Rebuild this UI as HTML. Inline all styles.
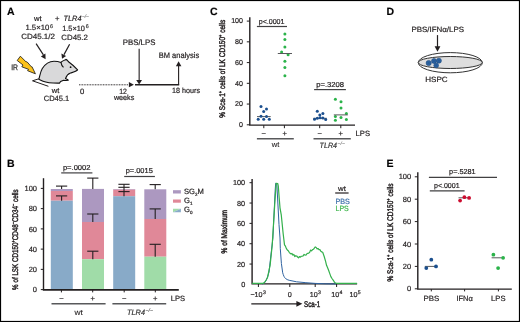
<!DOCTYPE html>
<html><head><meta charset="utf-8">
<style>
html,body{margin:0;padding:0;background:#fff;}
svg{display:block;will-change:transform;}
text{font-family:"Liberation Sans",sans-serif;text-rendering:geometricPrecision;fill:#231f20;stroke:#231f20;stroke-width:0.2px;}
.b{font-weight:bold;font-size:10.5px;fill:#000;}
.t{font-size:7.6px;}
.s{font-size:7.2px;}
.ax{stroke:#231f20;stroke-width:1.4;fill:none;}
.tk{stroke:#231f20;stroke-width:1;fill:none;}
.gl{stroke:#58595b;stroke-width:1.5;fill:none;}
.eb{stroke:#231f20;stroke-width:1.1;fill:none;}
.md{stroke:#58595b;stroke-width:1;fill:none;}
.yl{stroke-width:0.45px;}
.pl{stroke:#414042;stroke-width:1.2;fill:none;}
</style></head>
<body>
<svg width="520" height="322" viewBox="0 0 520 322">
<rect x="0" y="0" width="520" height="322" fill="#fff"/>

<text class="b" x="7" y="14.7">A</text>
<text class="t" x="34" y="21" textLength="7.6" lengthAdjust="spacingAndGlyphs">wt</text>
<text class="t" x="55" y="21">+</text>
<text class="t" x="63.5" y="20.9" font-style="italic" textLength="18" lengthAdjust="spacingAndGlyphs">TLR4</text>
<text x="81.9" y="17.6" font-size="5.2" font-style="italic" textLength="7" lengthAdjust="spacingAndGlyphs" style="fill:#777;stroke:#777;stroke-width:0.15px">−/−</text>
<text class="t" x="25.4" y="30.4" textLength="23.9" lengthAdjust="spacingAndGlyphs">1.5×10</text>
<text x="50.1" y="28.1" font-size="5.3" style="fill:#333;stroke:#333;stroke-width:0.2px">6</text>
<text class="t" x="21.2" y="39.4" textLength="33.8" lengthAdjust="spacingAndGlyphs">CD45.1/2</text>
<text class="t" x="62.2" y="30.5" textLength="22.8" lengthAdjust="spacingAndGlyphs">1.5×10</text>
<text x="85.8" y="28.1" font-size="5.3" style="fill:#333;stroke:#333;stroke-width:0.2px">6</text>
<text class="t" x="61.3" y="39.8" textLength="26.6" lengthAdjust="spacingAndGlyphs">CD45.2</text>
<line x1="36.1" y1="43.7" x2="43.4" y2="54.8" stroke="#231f20" stroke-width="1.2"/>
<polygon points="45.6,59.3 40.9,56.4 45.4,53.5" fill="#231f20"/>
<line x1="69.6" y1="44.3" x2="64" y2="54.6" stroke="#231f20" stroke-width="1.2"/>
<polygon points="62,58.8 61.4,53.4 66.1,55.9" fill="#231f20"/>
<text class="t" x="11.2" y="69.8" style="fill:#2a2a2a;stroke:#2a2a2a;stroke-width:0.25px;font-size:8px" textLength="6.8" lengthAdjust="spacingAndGlyphs">IR</text>
<polygon points="20.4,56.2 26.2,62.0 26.9,61.7 31.5,66.9 32.0,66.7 35.4,73.8 27.6,70.7 28.5,69.3 21.8,66.8 23.0,65.0 17.2,60.5" fill="#fcc21b" stroke="#111" stroke-width="0.8" stroke-linejoin="miter"/>
<path d="M38.8,78.8 L32.5,80.8 L48.4,86.3" fill="none" stroke="#231f20" stroke-width="1" stroke-linejoin="miter"/>
<path d="M38.8,79.3 C39.8,77 40,72.5 42.3,68.5 C45,64.2 49,61.3 54,61.2 C57,61.2 59.4,61.8 61,62.4 C62,61 63.8,60.6 65.9,59.4 C66.8,59.5 67.5,60.6 68.5,61.8 C71.5,64 74.8,66.6 77.6,69.9 C76.5,71.3 73,72.3 70.5,73.1 C68,74 66.6,75.6 65.5,78.5 L67.4,79.5 L68.3,80.2 L66,80.5 L63,80.4 L60.6,81.5 L59.5,83.1 C53,83.2 46.5,82.6 43,81.2 C41.3,80.5 39.8,79.8 38.8,79.3 Z" fill="#d9d9da" stroke="#111" stroke-width="1.1" stroke-linejoin="round"/>
<path d="M61,62.7 C61.3,64.6 62.2,66.3 63.5,67.4" fill="none" stroke="#111" stroke-width="1.1"/>
<circle cx="70.6" cy="67.2" r="0.9" fill="#111"/>
<text class="t" x="51.7" y="93.3" textLength="7.6" lengthAdjust="spacingAndGlyphs">wt</text>
<text class="t" x="43.7" y="100.5" textLength="25.6" lengthAdjust="spacingAndGlyphs">CD45.1</text>
<line x1="79" y1="84.8" x2="128.3" y2="84.8" stroke="#231f20" stroke-width="1" stroke-dasharray="0.9 0.7"/>
<polygon points="128.9,82.1 133.9,84.7 128.9,87.2" fill="#231f20"/>
<line x1="135" y1="84.75" x2="179.2" y2="84.75" stroke="#231f20" stroke-width="1.4"/>
<line x1="139.15" y1="48.8" x2="139.15" y2="81" stroke="#231f20" stroke-width="1.1"/>
<polygon points="136.2,79.9 142,79.9 139.15,84.6" fill="#231f20"/>
<line x1="178.6" y1="84.8" x2="178.6" y2="65.5" stroke="#231f20" stroke-width="1.1"/>
<polygon points="175.9,66.3 181.4,66.3 178.6,61.2" fill="#231f20"/>
<text class="t" x="122.8" y="45.2" textLength="32.6" lengthAdjust="spacingAndGlyphs" style="font-size:8px">PBS/LPS</text>
<text class="t" x="158.8" y="58.3" textLength="40.4" lengthAdjust="spacingAndGlyphs" style="font-size:8px">BM analysis</text>
<text class="t" x="80" y="93.6" textLength="4.3" lengthAdjust="spacingAndGlyphs">0</text>
<text class="t" x="119.2" y="93.8" textLength="7.7" lengthAdjust="spacingAndGlyphs">12</text>
<text class="t" x="113.9" y="99.9" textLength="20.4" lengthAdjust="spacingAndGlyphs">weeks</text>
<text class="t" x="172" y="93.0" textLength="28" lengthAdjust="spacingAndGlyphs">18 hours</text>
<text class="b" x="210" y="14.7">C</text>
<path class="ax" d="M249.8,17.3 V125.1 H355"/>
<line class="tk" x1="246.8" y1="124.80" x2="249.8" y2="124.80"/>
<text class="s" x="243.00" y="127.10" style="font-size:7.1px" text-anchor="end">0</text>
<line class="tk" x1="246.8" y1="104.06" x2="249.8" y2="104.06"/>
<text class="s" x="243.00" y="106.36" style="font-size:7.1px" text-anchor="end">20</text>
<line class="tk" x1="246.8" y1="83.32" x2="249.8" y2="83.32"/>
<text class="s" x="243.00" y="85.62" style="font-size:7.1px" text-anchor="end">40</text>
<line class="tk" x1="246.8" y1="62.58" x2="249.8" y2="62.58"/>
<text class="s" x="243.00" y="64.88" style="font-size:7.1px" text-anchor="end">60</text>
<line class="tk" x1="246.8" y1="41.84" x2="249.8" y2="41.84"/>
<text class="s" x="243.00" y="44.14" style="font-size:7.1px" text-anchor="end">80</text>
<line class="tk" x1="246.8" y1="21.10" x2="249.8" y2="21.10"/>
<text class="s" x="243.00" y="23.40" style="font-size:7.1px" text-anchor="end">100</text>
<line class="tk" x1="263.8" y1="125.1" x2="263.8" y2="128.2"/>
<line class="tk" x1="284.4" y1="125.1" x2="284.4" y2="128.2"/>
<line class="tk" x1="319.7" y1="125.1" x2="319.7" y2="128.2"/>
<line class="tk" x1="340.8" y1="125.1" x2="340.8" y2="128.2"/>
<text class="t" x="263.80" y="136.30" text-anchor="middle">−</text>
<text class="t" x="284.60" y="136.30" text-anchor="middle">+</text>
<text class="t" x="319.70" y="136.30" text-anchor="middle">−</text>
<text class="t" x="340.80" y="136.30" text-anchor="middle">+</text>
<text class="t" x="355.60" y="135.80" textLength="14.40" lengthAdjust="spacingAndGlyphs">LPS</text>
<line class="gl" x1="256.9" y1="138.8" x2="293.8" y2="138.8"/>
<line class="gl" x1="313.5" y1="138.8" x2="350.8" y2="138.8"/>
<text x="271.8" y="147.1" style="font-size:7.6px;stroke-width:0.1px" textLength="7.6" lengthAdjust="spacingAndGlyphs">wt</text>
<text x="319.6" y="147.5" font-style="italic" style="font-size:7.6px;fill:#333;stroke:#333;stroke-width:0.2px" textLength="17.5" lengthAdjust="spacingAndGlyphs">TLR4</text>
<text x="337.6" y="144.6" font-size="4.8" font-style="italic" textLength="7.2" lengthAdjust="spacingAndGlyphs" style="fill:#777;stroke:#777;stroke-width:0.12px">−/−</text>
<text class="s" x="258.70" y="23.70" textLength="25.80" lengthAdjust="spacingAndGlyphs">p&lt;.0001</text>
<line class="pl" x1="256.9" y1="26.5" x2="287" y2="26.5"/>
<text class="s" x="316.20" y="86.70" textLength="27.80" lengthAdjust="spacingAndGlyphs">p=.3208</text>
<line class="pl" x1="314.1" y1="89.6" x2="345.9" y2="89.6"/>
<text class="yl" style="font-size:8.2px" transform="translate(224.8,117.8) rotate(-90)" x="0" y="0" textLength="98" lengthAdjust="spacingAndGlyphs">% Sca-1<tspan font-size="5.08" dy="-3">+</tspan><tspan dy="3"> cells of LK CD150</tspan><tspan font-size="5.08" dy="-3">+</tspan><tspan dy="3"> cells</tspan></text>
<line class="md" x1="257" y1="116.6" x2="270.7" y2="116.6"/>
<circle cx="261" cy="106.5" r="1.5" fill="#1b4f8e"/>
<circle cx="266.5" cy="109" r="1.5" fill="#1b4f8e"/>
<circle cx="263.7" cy="111.6" r="1.5" fill="#1b4f8e"/>
<circle cx="261" cy="116.3" r="1.5" fill="#1b4f8e"/>
<circle cx="266.5" cy="116.6" r="1.5" fill="#1b4f8e"/>
<circle cx="258.2" cy="119.3" r="1.5" fill="#1b4f8e"/>
<circle cx="263.7" cy="119.3" r="1.5" fill="#1b4f8e"/>
<circle cx="269.3" cy="119.3" r="1.5" fill="#1b4f8e"/>
<circle cx="284.9" cy="33.9" r="1.5" fill="#2bb34a"/>
<circle cx="284.9" cy="39.5" r="1.5" fill="#2bb34a"/>
<circle cx="284.9" cy="47" r="1.5" fill="#2bb34a"/>
<circle cx="281.6" cy="52" r="1.5" fill="#2bb34a"/>
<circle cx="288.1" cy="54.8" r="1.5" fill="#2bb34a"/>
<circle cx="284.9" cy="61.3" r="1.5" fill="#2bb34a"/>
<circle cx="284.9" cy="67.5" r="1.5" fill="#2bb34a"/>
<circle cx="284.9" cy="75.7" r="1.5" fill="#2bb34a"/>
<line class="md" x1="277.8" y1="53.5" x2="292" y2="53.5"/>
<line class="md" x1="313.3" y1="118.3" x2="326.8" y2="118.3"/>
<circle cx="317.3" cy="111.3" r="1.5" fill="#1b4f8e"/>
<circle cx="322.9" cy="113.4" r="1.5" fill="#1b4f8e"/>
<circle cx="319.8" cy="114.9" r="1.5" fill="#1b4f8e"/>
<circle cx="314.5" cy="119.2" r="1.5" fill="#1b4f8e"/>
<circle cx="317.3" cy="118.3" r="1.5" fill="#1b4f8e"/>
<circle cx="320.1" cy="117.8" r="1.5" fill="#1b4f8e"/>
<circle cx="322.9" cy="118.1" r="1.5" fill="#1b4f8e"/>
<circle cx="325.7" cy="119.4" r="1.5" fill="#1b4f8e"/>
<circle cx="335.4" cy="99.2" r="1.5" fill="#2bb34a"/>
<circle cx="341" cy="101.7" r="1.5" fill="#2bb34a"/>
<circle cx="341" cy="108.1" r="1.5" fill="#2bb34a"/>
<circle cx="346.4" cy="113.5" r="1.5" fill="#2bb34a"/>
<circle cx="335.4" cy="116.4" r="1.5" fill="#2bb34a"/>
<circle cx="341" cy="117.4" r="1.5" fill="#2bb34a"/>
<circle cx="335.4" cy="120.2" r="1.5" fill="#2bb34a"/>
<circle cx="346.4" cy="119.5" r="1.5" fill="#2bb34a"/>
<line class="md" x1="333.8" y1="114.9" x2="347.8" y2="114.9"/>
<text class="b" x="7" y="167.1">B</text>
<rect x="50.8" y="189" width="22" height="2.00" fill="#ac98c0"/>
<rect x="50.8" y="191" width="22" height="9.70" fill="#e08898"/>
<rect x="50.8" y="200.7" width="22" height="89.00" fill="#88aac8"/>
<rect x="82" y="188.9" width="22" height="33.10" fill="#ac98c0"/>
<rect x="82" y="222" width="22" height="37.20" fill="#e08898"/>
<rect x="82" y="259.2" width="22" height="30.50" fill="#a0dca8"/>
<rect x="113.2" y="189" width="22" height="0.70" fill="#ac98c0"/>
<rect x="113.2" y="189.7" width="22" height="6.50" fill="#e08898"/>
<rect x="113.2" y="196.2" width="22" height="93.50" fill="#88aac8"/>
<rect x="144.3" y="189.3" width="22" height="29.70" fill="#ac98c0"/>
<rect x="144.3" y="219" width="22" height="37.70" fill="#e08898"/>
<rect x="144.3" y="256.7" width="22" height="33.00" fill="#a0dca8"/>
<line class="eb" x1="61.6" y1="186.1" x2="61.6" y2="189"/>
<line class="eb" x1="56.00" y1="186.1" x2="67.20" y2="186.1"/>
<line class="eb" x1="61.6" y1="195.9" x2="61.6" y2="200.7"/>
<line class="eb" x1="56.00" y1="195.9" x2="67.20" y2="195.9"/>
<line class="eb" x1="92.8" y1="178.1" x2="92.8" y2="188.9"/>
<line class="eb" x1="87.20" y1="178.1" x2="98.40" y2="178.1"/>
<line class="eb" x1="92.8" y1="214" x2="92.8" y2="222"/>
<line class="eb" x1="87.20" y1="214" x2="98.40" y2="214"/>
<line class="eb" x1="92.8" y1="251.2" x2="92.8" y2="259.2"/>
<line class="eb" x1="87.20" y1="251.2" x2="98.40" y2="251.2"/>
<line class="eb" x1="124" y1="184.3" x2="124" y2="196.2"/>
<line class="eb" x1="118.40" y1="184.3" x2="129.60" y2="184.3"/>
<line class="eb" x1="118.40" y1="187.3" x2="129.60" y2="187.3"/>
<line class="eb" x1="118.40" y1="191.6" x2="129.60" y2="191.6"/>
<line class="eb" x1="155.2" y1="184.6" x2="155.2" y2="189.3"/>
<line class="eb" x1="149.60" y1="184.6" x2="160.80" y2="184.6"/>
<line class="eb" x1="155.2" y1="208.9" x2="155.2" y2="219"/>
<line class="eb" x1="149.60" y1="208.9" x2="160.80" y2="208.9"/>
<line class="eb" x1="155.2" y1="244.3" x2="155.2" y2="256.7"/>
<line class="eb" x1="149.60" y1="244.3" x2="160.80" y2="244.3"/>
<path class="ax" d="M43.5,178.2 V289.9"/>
<line x1="42.8" y1="289.9" x2="178.8" y2="289.9" stroke="#231f20" stroke-width="1.7"/>
<line class="tk" x1="40.8" y1="289.60" x2="43.5" y2="289.60"/>
<text class="s" x="37.00" y="292.30" style="font-size:7.5px" text-anchor="end">0</text>
<line class="tk" x1="40.8" y1="269.36" x2="43.5" y2="269.36"/>
<text class="s" x="37.00" y="272.06" style="font-size:7.5px" text-anchor="end">20</text>
<line class="tk" x1="40.8" y1="249.12" x2="43.5" y2="249.12"/>
<text class="s" x="37.00" y="251.82" style="font-size:7.5px" text-anchor="end">40</text>
<line class="tk" x1="40.8" y1="228.88" x2="43.5" y2="228.88"/>
<text class="s" x="37.00" y="231.58" style="font-size:7.5px" text-anchor="end">60</text>
<line class="tk" x1="40.8" y1="208.64" x2="43.5" y2="208.64"/>
<text class="s" x="37.00" y="211.34" style="font-size:7.5px" text-anchor="end">80</text>
<line class="tk" x1="40.8" y1="188.40" x2="43.5" y2="188.40"/>
<text class="s" x="37.00" y="191.10" style="font-size:7.5px" text-anchor="end">100</text>
<line class="tk" x1="61.4" y1="289.7" x2="61.4" y2="292.4"/>
<line class="tk" x1="92.7" y1="289.7" x2="92.7" y2="292.4"/>
<line class="tk" x1="124.2" y1="289.7" x2="124.2" y2="292.4"/>
<line class="tk" x1="155.3" y1="289.7" x2="155.3" y2="292.4"/>
<text class="t" x="61.40" y="300.90" text-anchor="middle">−</text>
<text class="t" x="92.70" y="300.90" text-anchor="middle">+</text>
<text class="t" x="124.20" y="300.90" text-anchor="middle">−</text>
<text class="t" x="155.30" y="300.90" text-anchor="middle">+</text>
<text class="t" x="170.70" y="301.00" textLength="14.30" lengthAdjust="spacingAndGlyphs">LPS</text>
<line class="gl" x1="51.5" y1="303.8" x2="105.6" y2="303.8"/>
<line class="gl" x1="112.4" y1="303.8" x2="166.2" y2="303.8"/>
<text x="74.5" y="315" style="font-size:7.8px;stroke-width:0.1px" textLength="8.3" lengthAdjust="spacingAndGlyphs">wt</text>
<text x="127" y="315.2" font-style="italic" style="font-size:7.8px;fill:#333;stroke:#333;stroke-width:0.2px" textLength="18" lengthAdjust="spacingAndGlyphs">TLR4</text>
<text x="145.6" y="312" font-size="5.2" font-style="italic" textLength="7.4" lengthAdjust="spacingAndGlyphs" style="fill:#555;stroke:#555;stroke-width:0.15px">−/−</text>
<text class="s" x="62.90" y="169.90" textLength="27.60" lengthAdjust="spacingAndGlyphs">p=.0002</text>
<line class="pl" x1="61.2" y1="172.9" x2="92.4" y2="172.9"/>
<text class="s" x="125.70" y="173.40" textLength="27.10" lengthAdjust="spacingAndGlyphs">p=.0015</text>
<line class="pl" x1="124.2" y1="176.5" x2="154.9" y2="176.5"/>
<rect x="173" y="190.2" width="7.9" height="3.3" fill="#ac98c0"/>
<rect x="173" y="199.5" width="7.9" height="3.2" fill="#e08898"/>
<polygon points="173,208.7 180.9,208.7 173,212.2" fill="#a0dca8"/><polygon points="180.9,208.7 180.9,212.2 173,212.2" fill="#88aac8"/>
<text class="t" x="184" y="194.3">SG<tspan font-size="4.6" dy="1.8">2</tspan><tspan dy="-1.8">M</tspan></text>
<text class="t" x="184" y="203">G<tspan font-size="4.6" dy="1.8">1</tspan></text>
<text class="t" x="184" y="212.2">G<tspan font-size="4.6" dy="1.8">0</tspan></text>
<text class="yl" style="font-size:8.2px" transform="translate(17.9,289.9) rotate(-90)" x="0" y="0" textLength="100.5" lengthAdjust="spacingAndGlyphs">% of LSK CD150<tspan font-size="5.08" dy="-3">+</tspan><tspan dy="3">CD48</tspan><tspan font-size="5.08" dy="-3">−</tspan><tspan dy="3">CD34</tspan><tspan font-size="5.08" dy="-3">−</tspan><tspan dy="3"> cells</tspan></text>
<text class="s" x="245.20" y="287.00" style="font-size:7.3px" text-anchor="end">0</text>
<line class="tk" x1="249.5" y1="264.06" x2="252.1" y2="264.06"/>
<text class="s" x="245.20" y="266.66" style="font-size:7.3px" text-anchor="end">20</text>
<line class="tk" x1="249.5" y1="243.72" x2="252.1" y2="243.72"/>
<text class="s" x="245.20" y="246.32" style="font-size:7.3px" text-anchor="end">40</text>
<line class="tk" x1="249.5" y1="223.38" x2="252.1" y2="223.38"/>
<text class="s" x="245.20" y="225.98" style="font-size:7.3px" text-anchor="end">60</text>
<line class="tk" x1="249.5" y1="203.04" x2="252.1" y2="203.04"/>
<text class="s" x="245.20" y="205.64" style="font-size:7.3px" text-anchor="end">80</text>
<line class="tk" x1="249.5" y1="182.70" x2="252.1" y2="182.70"/>
<text class="s" x="245.20" y="185.30" style="font-size:7.3px" text-anchor="end">100</text>
<line class="tk" x1="258.4" y1="283.9" x2="258.4" y2="287"/>
<line class="tk" x1="289.8" y1="283.9" x2="289.8" y2="287"/>
<line class="tk" x1="315.2" y1="283.9" x2="315.2" y2="287"/>
<line class="tk" x1="336.6" y1="283.9" x2="336.6" y2="287"/>
<text class="s" x="250.4" y="296.9">−10<tspan font-size="5.2" dx="0.3" dy="-2.7">3</tspan></text>
<text class="s" x="287.80" y="296.90">0</text>
<text class="s" x="309.7" y="296.7">10<tspan font-size="5.2" dx="0.3" dy="-2.7">3</tspan></text>
<text class="s" x="331.2" y="296.7">10<tspan font-size="5.2" dx="0.3" dy="-2.7">4</tspan></text>
<text class="s" x="349.4" y="296.7">10<tspan font-size="5.2" dx="0.3" dy="-2.7">5</tspan></text>
<line x1="251.3" y1="303.8" x2="297" y2="303.8" stroke="#231f20" stroke-width="1.3"/>
<polygon points="296.4,300.9 302.4,303.8 296.4,306.7" fill="#231f20"/>
<text class="yl" style="font-size:8.4px" x="304.1" y="306.7" textLength="16.2" lengthAdjust="spacingAndGlyphs">Sca-1</text>
<text class="yl" style="font-size:8.2px" transform="translate(227.0,253.4) rotate(-90)" x="0" y="0" textLength="43.4" lengthAdjust="spacingAndGlyphs">% of Maximum</text>
<text class="s" x="338.00" y="191.20" textLength="7.80" lengthAdjust="spacingAndGlyphs">wt</text>
<line x1="335.2" y1="193" x2="348.6" y2="193" stroke="#231f20" stroke-width="1.2"/>
<text class="t" x="335.5" y="203.6" style="fill:#3b6ea8;stroke:#3b6ea8" textLength="14.4" lengthAdjust="spacingAndGlyphs">PBS</text>
<text class="t" x="335.5" y="211.3" style="fill:#3cb54a;stroke:#3cb54a" textLength="13.2" lengthAdjust="spacingAndGlyphs">LPS</text>
<path class="ax" d="M252.1,178.9 V283.9 H357.1"/>
<path d="M262,284 C265,283.5 267,280 269,272 L272.9,238 L275.2,190 L275.7,183.2 L276.8,183.6 L279,224.6 L280,238 L280.3,248.6 L281.4,263.5 L282.7,272.8 C283.5,275.5 284.3,277.5 285.4,278.4 C286.5,279.4 287.8,279.9 289.2,280.3 L296.6,281.8 L305.9,282.7 L315.2,283.4 L324.6,283.8 L336,284" fill="none" stroke="#2e62a0" stroke-width="1"/>
<path d="M252.1,283.3 L263,283.3 C264.5,283.1 265.8,281 267.5,277.5 L270.1,265.4 L272.2,245.2 L275,200 L276.2,183.4 L277.8,183.6 L278.3,186 L279.2,198 L280,207.8 L281.3,215.2 L283.2,234 L284.50,244.90 L285.45,246.17 L286.40,248.60 L287.33,249.93 L288.27,250.78 L289.20,252.30 L290.12,253.23 L291.05,253.98 L291.97,253.44 L292.90,255.10 L293.84,254.41 L294.78,256.60 L295.72,255.71 L296.66,256.04 L297.60,257.00 L298.52,257.91 L299.44,256.57 L300.36,257.20 L301.28,256.23 L302.20,256.10 L303.13,255.94 L304.07,254.40 L305.00,255.00 L305.93,255.04 L306.87,253.82 L307.80,253.30 L308.74,253.09 L309.68,252.20 L310.62,250.12 L311.56,250.91 L312.50,249.60 L313.43,249.28 L314.35,248.11 L315.27,246.99 L316.20,247.50 L317.12,248.83 L318.05,248.49 L318.97,249.56 L319.90,249.60 L320.83,251.33 L321.77,251.87 L322.70,252.30 L324.20,256.50 L325.60,261.30 L326.55,265.33 L327.50,267.50 L328.60,270.22 L329.70,273.40 L330.85,276.61 L332.00,278.50 L333.35,280.38 L334.70,282.50 C333.5,281 334.5,282.8 336.5,283.3 L357.1,283.3" fill="none" stroke="#33b04b" stroke-width="1.2" stroke-linejoin="round"/>
<text class="b" x="386.4" y="14.7">D</text>
<text class="t" x="411.40" y="31.80" textLength="52.60" lengthAdjust="spacingAndGlyphs">PBS/IFNα/LPS</text>
<line x1="437.5" y1="35.1" x2="437.5" y2="47" stroke="#231f20" stroke-width="1.2"/>
<polygon points="434.6,46.2 440.4,46.2 437.5,51.8" fill="#231f20"/>
<ellipse cx="450.3" cy="62.7" rx="32" ry="10.1" fill="#fff" stroke="#333" stroke-width="1"/>
<ellipse cx="450.25" cy="62.5" rx="32" ry="6" fill="#dedede" stroke="#333" stroke-width="1"/>
<circle cx="428.7" cy="63" r="2.6" fill="#2d64a2" stroke="#1c4a80" stroke-width="0.6"/>
<circle cx="428.7" cy="63" r="1.17" fill="#1d5290" opacity="0.5"/>
<circle cx="434" cy="61" r="2.5" fill="#2d64a2" stroke="#1c4a80" stroke-width="0.6"/>
<circle cx="434" cy="61" r="1.12" fill="#1d5290" opacity="0.5"/>
<circle cx="438.9" cy="60.7" r="2.5" fill="#2d64a2" stroke="#1c4a80" stroke-width="0.6"/>
<circle cx="438.9" cy="60.7" r="1.12" fill="#1d5290" opacity="0.5"/>
<circle cx="436.2" cy="65.4" r="2.4" fill="#2d64a2" stroke="#1c4a80" stroke-width="0.6"/>
<circle cx="436.2" cy="65.4" r="1.08" fill="#1d5290" opacity="0.5"/>
<text class="t" x="425.30" y="81.90" textLength="22.40" lengthAdjust="spacingAndGlyphs">HSPC</text>
<text class="b" x="386.4" y="166.8">E</text>
<path class="ax" d="M417.8,172.2 V289.1 H511.8"/>
<line class="tk" x1="414.8" y1="288.80" x2="417.8" y2="288.80"/>
<text class="s" x="411.20" y="291.40" style="font-size:7.5px" text-anchor="end">0</text>
<line class="tk" x1="414.8" y1="266.40" x2="417.8" y2="266.40"/>
<text class="s" x="411.20" y="269.00" style="font-size:7.5px" text-anchor="end">20</text>
<line class="tk" x1="414.8" y1="244.00" x2="417.8" y2="244.00"/>
<text class="s" x="411.20" y="246.60" style="font-size:7.5px" text-anchor="end">40</text>
<line class="tk" x1="414.8" y1="221.60" x2="417.8" y2="221.60"/>
<text class="s" x="411.20" y="224.20" style="font-size:7.5px" text-anchor="end">60</text>
<line class="tk" x1="414.8" y1="199.20" x2="417.8" y2="199.20"/>
<text class="s" x="411.20" y="201.80" style="font-size:7.5px" text-anchor="end">80</text>
<line class="tk" x1="414.8" y1="176.80" x2="417.8" y2="176.80"/>
<text class="s" x="411.20" y="179.40" style="font-size:7.5px" text-anchor="end">100</text>
<line class="tk" x1="431.3" y1="289.1" x2="431.3" y2="291.4"/>
<line class="tk" x1="464.6" y1="289.1" x2="464.6" y2="291.4"/>
<line class="tk" x1="498.4" y1="289.1" x2="498.4" y2="291.4"/>
<text class="t" x="423.40" y="300.70" textLength="15.80" lengthAdjust="spacingAndGlyphs">PBS</text>
<text class="t" x="456.40" y="300.70" textLength="16.50" lengthAdjust="spacingAndGlyphs">IFNα</text>
<text class="t" x="491.10" y="300.70" textLength="14.40" lengthAdjust="spacingAndGlyphs">LPS</text>
<text class="s" x="449.10" y="174.00" textLength="26.50" lengthAdjust="spacingAndGlyphs">p=.5281</text>
<line class="pl" x1="428.9" y1="177.4" x2="497" y2="177.4"/>
<text class="s" x="434.00" y="187.50" textLength="25.60" lengthAdjust="spacingAndGlyphs">p&lt;.0001</text>
<line class="pl" x1="429.8" y1="190.9" x2="464.6" y2="190.9"/>
<line class="md" x1="424.8" y1="266.4" x2="436.4" y2="266.4"/>
<circle cx="431.3" cy="259.7" r="1.9" fill="#1b4f8e"/>
<circle cx="426.3" cy="268.1" r="1.9" fill="#1b4f8e"/>
<circle cx="436" cy="266.4" r="1.9" fill="#1b4f8e"/>
<line class="md" x1="458.5" y1="197.8" x2="470" y2="197.8"/>
<circle cx="460.1" cy="200.6" r="1.9" fill="#cc0c2f"/>
<circle cx="464.4" cy="197.2" r="1.9" fill="#cc0c2f"/>
<circle cx="469.1" cy="197.9" r="1.9" fill="#cc0c2f"/>
<line class="md" x1="491.6" y1="257.8" x2="501.8" y2="257.8"/>
<circle cx="493.4" cy="254.7" r="1.9" fill="#2bb34a"/>
<circle cx="503.1" cy="257.8" r="1.9" fill="#2bb34a"/>
<circle cx="498.1" cy="268.1" r="1.9" fill="#2bb34a"/>
<text class="yl" style="font-size:8.2px" transform="translate(393,281.5) rotate(-90)" x="0" y="0" textLength="98" lengthAdjust="spacingAndGlyphs">% Sca-1<tspan font-size="5.08" dy="-3">+</tspan><tspan dy="3"> cells of LK CD150</tspan><tspan font-size="5.08" dy="-3">+</tspan><tspan dy="3"> cells</tspan></text>
<rect x="0.5" y="0.5" width="519" height="321" fill="none" stroke="#000" stroke-width="1.2"/>
</svg>
</body></html>
